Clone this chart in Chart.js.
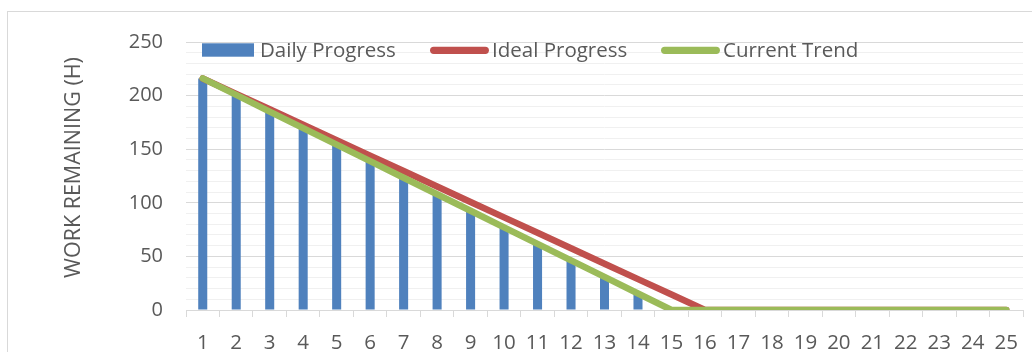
<!DOCTYPE html>
<html>
<head>
<meta charset="utf-8">
<title>Burndown</title>
<script src="https://cdn.jsdelivr.net/npm/chart.js@4.4.1/dist/chart.umd.min.js"></script>
<style>
  html, body { margin: 0; padding: 0; background: #fff; overflow: hidden; }
  #wrap { position: relative; width: 1032px; height: 352px; }
</style>
</head>
<body>
<div id="wrap"><canvas id="burndown" width="1032" height="352"></canvas></div>
<script>
// Sprint days
const days = ['1','2','3','4','5','6','7','8','9','10','11','12','13','14','15','16','17','18','19','20','21','22','23','24','25'];
// Remaining hours recorded each day
const dailyProgress = [216, 200, 186, 170, 155, 139, 123, 108, 93, 77, 62, 46, 31, 15, 0, 0, 0, 0, 0, 0, 0, 0, 0, 0, 0];
// Planned burn from 216 h down to zero on day 16
const idealProgress = [216, 201.6, 187.2, 172.8, 158.4, 144, 129.6, 115.2, 100.8, 86.4, 72, 57.6, 43.2, 28.8, 14.4, 0, 0, 0, 0, 0, 0, 0, 0, 0, 0];
// Trend of the actual burn, reaching zero on day 15
const currentTrend = [216, 200.6, 185.1, 169.7, 154.3, 138.9, 123.4, 108, 92.6, 77.1, 61.7, 46.3, 30.9, 15.4, 0, 0, 0, 0, 0, 0, 0, 0, 0, 0, 0];
// Labelled values on the hours axis
const yTickLabels = [0, 50, 100, 150, 200, 250];
const yAxisTitle = 'WORK REMAINING (H)';

const TEXT = '#595959';
const FONT = '"Open Sans", "Liberation Sans", sans-serif';

// Thin frame around the whole chart
const framePlugin = {
  id: 'frame',
  beforeDraw(chart) {
    const ctx = chart.ctx;
    ctx.save();
    ctx.fillStyle = '#fff';
    ctx.fillRect(0, 0, chart.width, chart.height);
    ctx.strokeStyle = '#d9d9d9';
    ctx.lineWidth = 1;
    ctx.strokeRect(7.5, 11.5, chart.width + 20, chart.height + 20);
    ctx.restore();
  }
};

// Vertical axis title, centred on the frame height
const yTitlePlugin = {
  id: 'yTitle',
  afterDraw(chart) {
    const ctx = chart.ctx;
    ctx.save();
    ctx.translate(74, 167.5);
    ctx.rotate(-Math.PI / 2);
    ctx.font = '21.5px ' + FONT;
    ctx.fillStyle = TEXT;
    ctx.textAlign = 'center';
    ctx.textBaseline = 'middle';
    ctx.fillText(yAxisTitle, 0, 0);
    ctx.restore();
  }
};

// Legend row laid over the top of the plot: symbol start, text start
const legendSlots = [[202, 260], [430, 492], [661, 723]];
const legendPlugin = {
  id: 'topLegend',
  afterDraw(chart) {
    const ctx = chart.ctx;
    const cy = 50;
    ctx.save();
    ctx.font = '20.5px ' + FONT;
    ctx.textBaseline = 'alphabetic';
    ctx.textAlign = 'left';
    chart.data.datasets.forEach((ds, i) => {
      const [sx, tx] = legendSlots[i];
      if (ds.type === 'bar') {
        ctx.fillStyle = ds.backgroundColor;
        ctx.fillRect(sx, cy - 6.7, 52, 13.4);
      } else {
        ctx.strokeStyle = ds.borderColor;
        ctx.lineWidth = 7.3;
        ctx.lineCap = 'round';
        ctx.beginPath();
        ctx.moveTo(sx + 3.7, cy + 0.3);
        ctx.lineTo(sx + 55.3, cy + 0.3);
        ctx.stroke();
      }
      ctx.fillStyle = TEXT;
      ctx.fillText(ds.label, tx, 56.7);
    });
    ctx.restore();
  }
};

new Chart(document.getElementById('burndown'), {
  data: {
    labels: days,
    datasets: [
      {
        type: 'bar',
        label: 'Daily Progress',
        data: dailyProgress,
        backgroundColor: '#4f81bd',
        barPercentage: 0.27,
        categoryPercentage: 1,
        order: 3
      },
      {
        type: 'line',
        label: 'Ideal Progress',
        data: idealProgress,
        borderColor: '#c0504d',
        borderWidth: 6.5,
        borderCapStyle: 'round',
        borderJoinStyle: 'round',
        pointRadius: 0,
        tension: 0,
        order: 2
      },
      {
        type: 'line',
        label: 'Current Trend',
        data: currentTrend,
        borderColor: '#9bbb59',
        borderWidth: 6.5,
        borderCapStyle: 'round',
        borderJoinStyle: 'round',
        pointRadius: 0,
        tension: 0,
        order: 1
      }
    ]
  },
  options: {
    responsive: false,
    animation: false,
    devicePixelRatio: 1,
    layout: { padding: { top: 42, right: 0, bottom: 0, left: 0 } },
    plugins: {
      legend: { display: false },
      tooltip: { enabled: false }
    },
    scales: {
      x: {
        type: 'category',
        offset: true,
        grid: {
          offset: true,
          drawOnChartArea: false,
          drawTicks: true,
          tickLength: 7,
          color: '#d9d9d9'
        },
        border: { display: true, color: '#d9d9d9', width: 1 },
        ticks: {
          color: TEXT,
          font: { family: FONT, size: 20.5 },
          padding: 14,
          maxRotation: 0,
          autoSkip: false
        },
        afterFit(scale) { scale.height = 42; }
      },
      y: {
        min: 0,
        max: 250,
        grid: {
          drawTicks: false,
          color: (c) => (yTickLabels.includes(c.tick.value) ? '#d9d9d9' : '#f0f0f0')
        },
        border: { display: false },
        ticks: {
          stepSize: 10,
          color: TEXT,
          font: { family: FONT, size: 20 },
          padding: 23,
          autoSkip: false,
          callback: (v) => (yTickLabels.includes(v) ? String(v) : '')
        },
        afterFit(scale) { scale.width = 186; }
      }
    }
  },
  plugins: [framePlugin, yTitlePlugin, legendPlugin]
});
</script>
</body>
</html>
